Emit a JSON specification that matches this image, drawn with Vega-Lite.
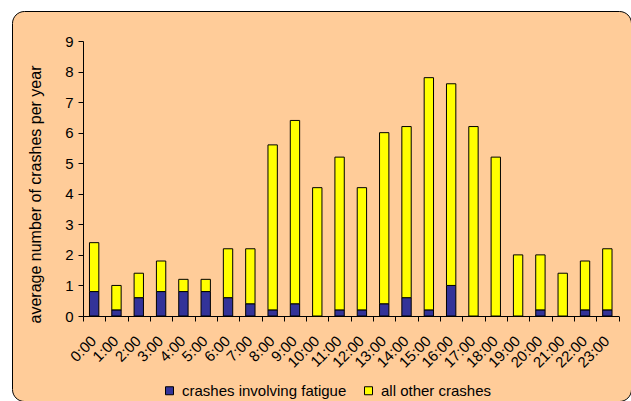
{
  "$schema": "https://vega.github.io/schema/vega-lite/v6.json",
  "autosize": "none",
  "padding": {"left": 12, "top": 11, "right": 0, "bottom": 0},
  "width": 619,
  "height": 390,
  "background": "white",
  "config": {
    "view": {"fill": "#FFCC99", "stroke": "black", "strokeWidth": 1, "cornerRadius": 12},
    "font": "Liberation Sans",
    "axis": {
      "domainColor": "black",
      "domainWidth": 1,
      "tickColor": "black",
      "tickWidth": 1,
      "tickSize": 5,
      "labelColor": "black",
      "labelFont": "Liberation Sans",
      "labelFontSize": 15,
      "titleColor": "black",
      "titleFont": "Liberation Sans",
      "titleFontSize": 16,
      "titleFontWeight": "normal",
      "grid": false
    },
    "legend": {
      "labelFont": "Liberation Sans",
      "labelFontSize": 15,
      "labelColor": "black",
      "labelLimit": 0
    }
  },
  "data": {
    "values": [
      {"hour": "0:00", "series": "crashes involving fatigue", "crashes": 0.8},
      {"hour": "0:00", "series": "all other crashes", "crashes": 1.6},
      {"hour": "1:00", "series": "crashes involving fatigue", "crashes": 0.2},
      {"hour": "1:00", "series": "all other crashes", "crashes": 0.8},
      {"hour": "2:00", "series": "crashes involving fatigue", "crashes": 0.6},
      {"hour": "2:00", "series": "all other crashes", "crashes": 0.8},
      {"hour": "3:00", "series": "crashes involving fatigue", "crashes": 0.8},
      {"hour": "3:00", "series": "all other crashes", "crashes": 1.0},
      {"hour": "4:00", "series": "crashes involving fatigue", "crashes": 0.8},
      {"hour": "4:00", "series": "all other crashes", "crashes": 0.4},
      {"hour": "5:00", "series": "crashes involving fatigue", "crashes": 0.8},
      {"hour": "5:00", "series": "all other crashes", "crashes": 0.4},
      {"hour": "6:00", "series": "crashes involving fatigue", "crashes": 0.6},
      {"hour": "6:00", "series": "all other crashes", "crashes": 1.6},
      {"hour": "7:00", "series": "crashes involving fatigue", "crashes": 0.4},
      {"hour": "7:00", "series": "all other crashes", "crashes": 1.8},
      {"hour": "8:00", "series": "crashes involving fatigue", "crashes": 0.2},
      {"hour": "8:00", "series": "all other crashes", "crashes": 5.4},
      {"hour": "9:00", "series": "crashes involving fatigue", "crashes": 0.4},
      {"hour": "9:00", "series": "all other crashes", "crashes": 6.0},
      {"hour": "10:00", "series": "crashes involving fatigue", "crashes": 0.0},
      {"hour": "10:00", "series": "all other crashes", "crashes": 4.2},
      {"hour": "11:00", "series": "crashes involving fatigue", "crashes": 0.2},
      {"hour": "11:00", "series": "all other crashes", "crashes": 5.0},
      {"hour": "12:00", "series": "crashes involving fatigue", "crashes": 0.2},
      {"hour": "12:00", "series": "all other crashes", "crashes": 4.0},
      {"hour": "13:00", "series": "crashes involving fatigue", "crashes": 0.4},
      {"hour": "13:00", "series": "all other crashes", "crashes": 5.6},
      {"hour": "14:00", "series": "crashes involving fatigue", "crashes": 0.6},
      {"hour": "14:00", "series": "all other crashes", "crashes": 5.6},
      {"hour": "15:00", "series": "crashes involving fatigue", "crashes": 0.2},
      {"hour": "15:00", "series": "all other crashes", "crashes": 7.6},
      {"hour": "16:00", "series": "crashes involving fatigue", "crashes": 1.0},
      {"hour": "16:00", "series": "all other crashes", "crashes": 6.6},
      {"hour": "17:00", "series": "crashes involving fatigue", "crashes": 0.0},
      {"hour": "17:00", "series": "all other crashes", "crashes": 6.2},
      {"hour": "18:00", "series": "crashes involving fatigue", "crashes": 0.0},
      {"hour": "18:00", "series": "all other crashes", "crashes": 5.2},
      {"hour": "19:00", "series": "crashes involving fatigue", "crashes": 0.0},
      {"hour": "19:00", "series": "all other crashes", "crashes": 2.0},
      {"hour": "20:00", "series": "crashes involving fatigue", "crashes": 0.2},
      {"hour": "20:00", "series": "all other crashes", "crashes": 1.8},
      {"hour": "21:00", "series": "crashes involving fatigue", "crashes": 0.0},
      {"hour": "21:00", "series": "all other crashes", "crashes": 1.4},
      {"hour": "22:00", "series": "crashes involving fatigue", "crashes": 0.2},
      {"hour": "22:00", "series": "all other crashes", "crashes": 1.6},
      {"hour": "23:00", "series": "crashes involving fatigue", "crashes": 0.2},
      {"hour": "23:00", "series": "all other crashes", "crashes": 2.0}
    ]
  },
  "mark": {"type": "bar", "width": {"band": 0.42}, "stroke": "black", "strokeWidth": 1},
  "encoding": {
    "x": {
      "field": "hour",
      "type": "nominal",
      "sort": null,
      "scale": {"range": [71, 606.5], "paddingInner": 0, "paddingOuter": 0},
      "axis": {
        "title": null,
        "orient": "bottom",
        "offset": -85,
        "tickBand": "extent",
        "labelAngle": -45,
        "labelAlign": "right",
        "labelBaseline": "middle",
        "labelPadding": 17,
        "labelOffset": -1
      }
    },
    "y": {
      "field": "crashes",
      "type": "quantitative",
      "stack": "zero",
      "scale": {"domain": [0, 9], "range": [305, 30], "nice": false},
      "axis": {
        "title": "average number of crashes per year",
        "orient": "left",
        "offset": -71,
        "values": [0, 1, 2, 3, 4, 5, 6, 7, 8, 9],
        "labelPadding": 5,
        "titlePadding": 21,
        "titleY": 183
      }
    },
    "color": {
      "field": "series",
      "type": "nominal",
      "sort": ["crashes involving fatigue", "all other crashes"],
      "scale": {"domain": ["crashes involving fatigue", "all other crashes"], "range": ["#333399", "#FFFF00"]},
      "legend": {
        "title": null,
        "orient": "none",
        "direction": "horizontal",
        "legendX": 150,
        "legendY": 372,
        "padding": 0,
        "symbolType": "square",
        "symbolSize": 64,
        "symbolStrokeColor": "black",
        "symbolStrokeWidth": 1,
        "symbolOpacity": 1,
        "labelOffset": 5,
        "columnPadding": 14
      }
    },
    "order": {"field": "series", "sort": "descending"}
  }
}
